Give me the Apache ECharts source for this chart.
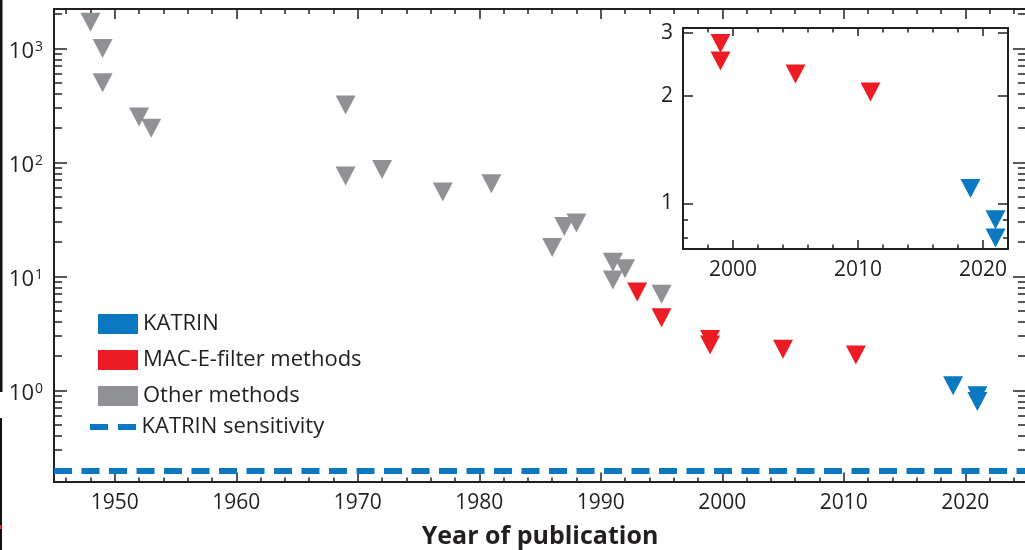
<!DOCTYPE html>
<html>
<head>
<meta charset="utf-8">
<script src="https://cdn.jsdelivr.net/npm/echarts@6/dist/echarts.min.js"></script>
<style>
  html, body { margin: 0; padding: 0; background: #fff; }
  #chart { width: 1025px; height: 550px; }
</style>
</head>
<body>
<div id="chart"></div>
<script>
// Upper limits on the neutrino mass (eV) against year of publication.
const otherYears   = [1948, 1949, 1949, 1952, 1953, 1969, 1969, 1972, 1977, 1981, 1986, 1987, 1988, 1991, 1991, 1992, 1995];
const otherLimits  = [1700, 1000, 500, 250, 200, 320, 76, 87, 55, 65, 18, 27.5, 29.5, 13.3, 9.3, 11.7, 7.0];
const macYears     = [1993, 1995, 1999, 1999, 2005, 2011];
const macLimits    = [7.3, 4.35, 2.8, 2.5, 2.3, 2.05];
const katrinYears  = [2019, 2021, 2021];
const katrinLimits = [1.1, 0.9, 0.8];
const katrinSensitivity = 0.2;

// Axis ranges and tick labels
const yearRange       = [1945, 2025];
const limitRange      = [0.1575, 2220];
const yearTicks       = [1950, 1960, 1970, 1980, 1990, 2000, 2010, 2020];
const decadeExponents = [0, 1, 2, 3];
const insetYearRange  = [1996, 2022];
const insetLimitRange = [0.745, 3.094];
const insetYearTicks  = [2000, 2010, 2020];
const insetLimitTicks = [1, 2, 3];
const insetLimitMinor = [0.8, 0.9];

const INK  = '#231f20';
const GRAY = '#909195';
const RED  = '#ed1c24';
const BLUE = '#0a79c1';
const FONT = '"Open Sans", "Noto Sans", sans-serif';

const lg = Math.log10;

// minor tick positions: every 2 years, and 2..9 within each decade
function evenYears(range, majors) {
  const out = [];
  for (let y = Math.ceil(range[0] / 2) * 2; y <= range[1]; y += 2) {
    if (majors.indexOf(y) < 0) out.push(y);
  }
  return out;
}
function logMinors(lo, hi) {
  const out = [];
  for (let d = Math.floor(lo) - 1; d <= Math.ceil(hi); d++) {
    for (let k = 2; k <= 9; k++) {
      const v = lg(k) + d;
      if (v >= lo && v <= hi) out.push(v);
    }
  }
  return out;
}

const mainYMin = lg(limitRange[0]), mainYMax = lg(limitRange[1]);
const insetYMin = lg(insetLimitRange[0]), insetYMax = lg(insetLimitRange[1]);

const toPoints = (xs, vs) => xs.map((x, i) => [x, lg(vs[i])]);
const insetPoints = (xs, vs) => xs.map((x, i) => [x, lg(vs[i])])
  .filter(p => p[0] >= insetYearRange[0] && p[0] <= insetYearRange[1]);

function valAxis(gridIndex, position, min, max, o) {
  return {
    type: 'value', gridIndex, position, min, max,
    axisLine: { show: !!o.line, onZero: false, lineStyle: { color: INK, width: 2 } },
    axisTick: { show: true, inside: true, length: o.len, customValues: o.ticks,
                lineStyle: { color: INK, width: 1.5 } },
    axisLabel: o.label ? Object.assign({ customValues: o.ticks }, o.label) : { show: false },
    splitLine: { show: false },
    name: o.name || '',
    nameLocation: 'middle',
    nameGap: o.nameGap || 0,
    nameTextStyle: o.nameStyle || {}
  };
}

const labelFont = { color: INK, fontFamily: FONT, fontSize: 21 };
const yearLabel = v => String(Math.round(v));

const xAxes = [
  valAxis(0, 'bottom', yearRange[0], yearRange[1], {
    line: true, len: 9.5, ticks: yearTicks,
    label: Object.assign({ margin: 11, formatter: yearLabel }, labelFont),
    name: 'Year of publication', nameGap: 42,
    nameStyle: { color: INK, fontFamily: FONT, fontSize: 25, fontWeight: 'bold' }
  }),
  valAxis(0, 'bottom', yearRange[0], yearRange[1], { len: 4.5, ticks: evenYears(yearRange, yearTicks) }),
  valAxis(0, 'top', yearRange[0], yearRange[1], { line: true, len: 10, ticks: yearTicks }),
  valAxis(0, 'top', yearRange[0], yearRange[1], { len: 5, ticks: evenYears(yearRange, yearTicks) }),
  valAxis(1, 'bottom', insetYearRange[0], insetYearRange[1], {
    line: true, len: 9, ticks: insetYearTicks,
    label: Object.assign({ margin: 11, formatter: yearLabel }, labelFont)
  }),
  valAxis(1, 'bottom', insetYearRange[0], insetYearRange[1], { len: 4.5, ticks: evenYears(insetYearRange, insetYearTicks) }),
  valAxis(1, 'top', insetYearRange[0], insetYearRange[1], { line: true, len: 8, ticks: insetYearTicks }),
  valAxis(1, 'top', insetYearRange[0], insetYearRange[1], { len: 4.5, ticks: evenYears(insetYearRange, insetYearTicks) })
];

const yAxes = [
  valAxis(0, 'left', mainYMin, mainYMax, {
    line: true, len: 13, ticks: decadeExponents,
    label: {
      margin: 11, padding: [6, 0, 0, 0],
      formatter: v => '{b|10}{s|' + Math.round(v) + '}',
      rich: {
        b: { color: INK, fontFamily: FONT, fontSize: 22 },
        s: { color: INK, fontFamily: FONT, fontSize: 14, verticalAlign: 'top', padding: [0, 0, 0, 1] }
      }
    }
  }),
  valAxis(0, 'left', mainYMin, mainYMax, { len: 8, ticks: logMinors(mainYMin, mainYMax) }),
  valAxis(0, 'right', mainYMin, mainYMax, { line: true, len: 13, ticks: decadeExponents }),
  valAxis(0, 'right', mainYMin, mainYMax, { len: 8, ticks: logMinors(mainYMin, mainYMax) }),
  valAxis(1, 'left', insetYMin, insetYMax, {
    line: true, len: 10, ticks: insetLimitTicks.map(lg),
    label: Object.assign({ margin: 10, formatter: v => String(Math.round(Math.pow(10, v))) }, labelFont)
  }),
  valAxis(1, 'left', insetYMin, insetYMax, { len: 5, ticks: insetLimitMinor.map(lg) }),
  valAxis(1, 'right', insetYMin, insetYMax, { line: true, len: 10, ticks: insetLimitTicks.map(lg) }),
  valAxis(1, 'right', insetYMin, insetYMax, { len: 5, ticks: insetLimitMinor.map(lg) })
];

const triangle = { symbol: 'triangle', symbolRotate: 180, symbolSize: [20, 19] };

function scatter(name, color, data, axisIndex) {
  return Object.assign({
    type: 'scatter', name, data,
    xAxisIndex: axisIndex, yAxisIndex: axisIndex,
    itemStyle: { color, opacity: 1 },
    emphasis: { disabled: true },
    silent: true
  }, triangle);
}

const legendText = { color: INK, fontFamily: FONT, fontSize: 22 };

const option = {
  animation: false,
  backgroundColor: '#fff',
  textStyle: { fontFamily: FONT },
  grid: [
    { left: 54, top: 9, right: -1, bottom: 68, containLabel: false, outerBoundsMode: 'none' },
    { left: 683, top: 28, width: 325, height: 221, containLabel: false, outerBoundsMode: 'none',
      show: true, backgroundColor: '#fff', borderWidth: 0 }
  ],
  xAxis: xAxes,
  yAxis: yAxes,
  legend: [
    {
      data: ['KATRIN', 'MAC-E-filter methods', 'Other methods'],
      orient: 'vertical', left: 98, top: 313,
      icon: 'rect', itemWidth: 40, itemHeight: 20, itemGap: 14,
      selectedMode: false, padding: 0,
      textStyle: legendText
    },
    {
      data: ['KATRIN sensitivity'],
      orient: 'vertical', left: 90, top: 416,
      icon: 'path://M0,0h18v6H0z M28,0h18v6H28z', itemWidth: 47, itemHeight: 6,
      selectedMode: false, padding: 0,
      textStyle: legendText
    }
  ],
  series: [
    scatter('Other methods', GRAY, toPoints(otherYears, otherLimits), 0),
    scatter('MAC-E-filter methods', RED, toPoints(macYears, macLimits), 0),
    scatter('KATRIN', BLUE, toPoints(katrinYears, katrinLimits), 0),
    {
      type: 'line', name: 'KATRIN sensitivity', data: [],
      xAxisIndex: 0, yAxisIndex: 0, symbol: 'none',
      itemStyle: { color: BLUE },
      lineStyle: { color: BLUE, width: 6, type: [18, 9.5] },
      markLine: {
        silent: true, symbol: ['none', 'none'],
        label: { show: false },
        lineStyle: { color: BLUE, width: 6, type: [18, 9.5] },
        data: [{ yAxis: lg(katrinSensitivity) }]
      }
    },
    scatter('MAC-E-filter methods', RED, insetPoints(macYears, macLimits), 4),
    scatter('KATRIN', BLUE, insetPoints(katrinYears, katrinLimits), 4)
  ],
  // dark page edge at the far left
  graphic: [
    { type: 'rect', left: 0, top: 0, shape: { width: 2.5, height: 392 }, style: { fill: '#111' }, silent: true },
    { type: 'rect', left: 0, top: 418, shape: { width: 2, height: 132 }, style: { fill: '#111' }, silent: true },
    { type: 'rect', left: 0, top: 525, shape: { width: 2, height: 4 }, style: { fill: RED }, silent: true }
  ]
};

const chart = echarts.init(document.getElementById('chart'), null, { renderer: 'canvas' });
chart.setOption(option);
</script>
</body>
</html>
